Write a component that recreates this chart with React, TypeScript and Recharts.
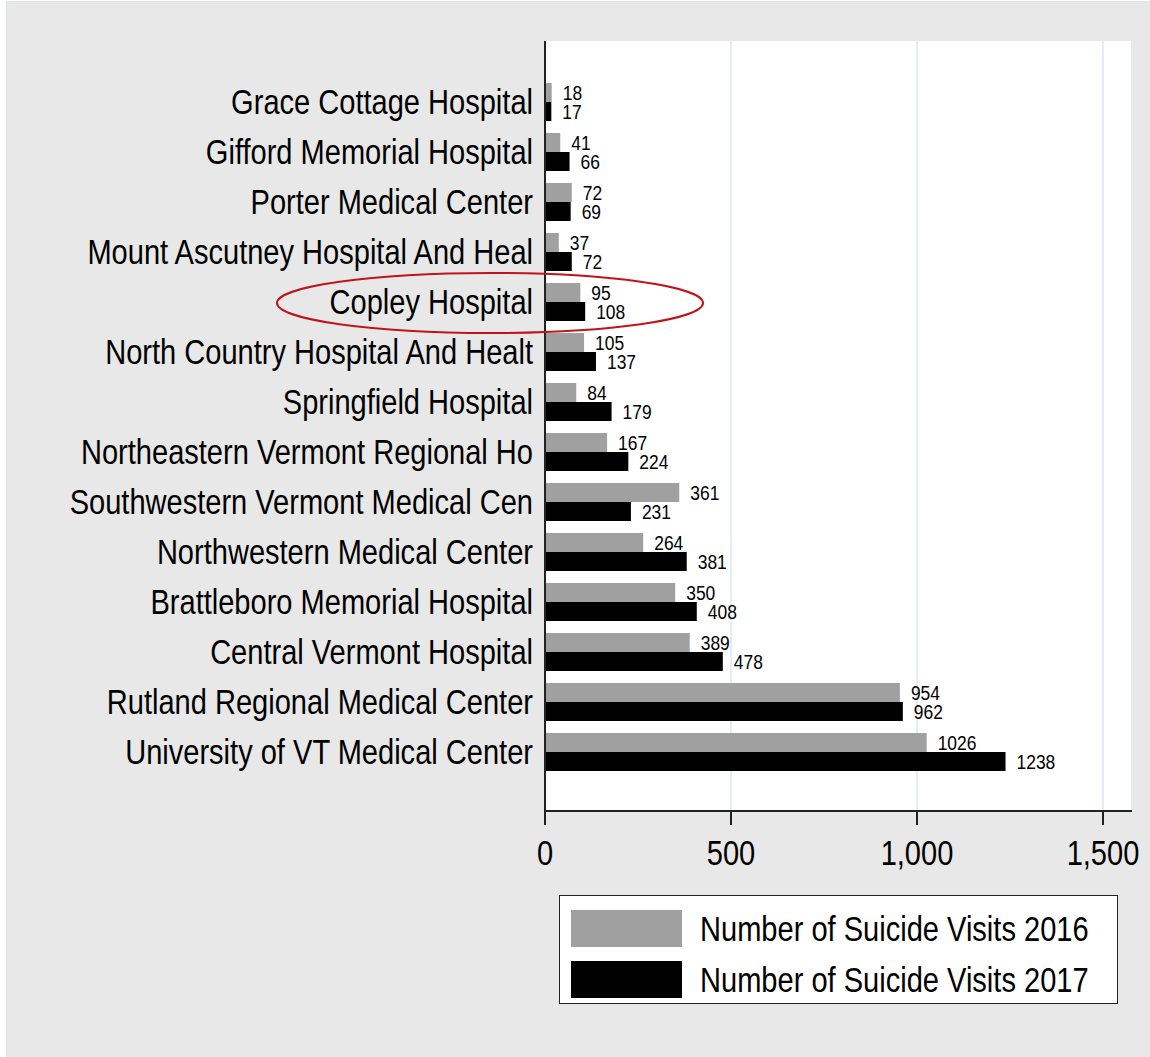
import React from 'react';
import {
  BarChart,
  Bar,
  XAxis,
  YAxis,
  CartesianGrid,
  LabelList,
} from 'recharts';

const hospitals = [
  'Grace Cottage Hospital',
  'Gifford Memorial Hospital',
  'Porter Medical Center',
  'Mount Ascutney Hospital And Heal',
  'Copley Hospital',
  'North Country Hospital And Healt',
  'Springfield Hospital',
  'Northeastern Vermont Regional Ho',
  'Southwestern Vermont Medical Cen',
  'Northwestern Medical Center',
  'Brattleboro Memorial Hospital',
  'Central Vermont Hospital',
  'Rutland Regional Medical Center',
  'University of VT Medical Center',
];
const visits2016 = [18, 41, 72, 37, 95, 105, 84, 167, 361, 264, 350, 389, 954, 1026];
const visits2017 = [17, 66, 69, 72, 108, 137, 179, 224, 231, 381, 408, 478, 962, 1238];
const xTicks = [0, 500, 1000, 1500];
const seriesNames = ['Number of Suicide Visits 2016', 'Number of Suicide Visits 2017'];
const highlighted = 'Copley Hospital';

const data = hospitals.map((name, i) => ({
  name,
  v2016: visits2016[i],
  v2017: visits2017[i],
}));

// no narrow font installed, so squeeze Liberation Sans sideways
const FONT = '"Liberation Sans", Arial, sans-serif';
const SQUEEZE = 0.83;
const GRAY = '#a0a0a0';
const BLACK = '#000000';

const NarrowText = ({ x, y, anchor, size, dy, children }: any) => (
  <text
    transform={`translate(${x},${y}) scale(${SQUEEZE},1)`}
    x={0}
    y={0}
    dy={dy}
    textAnchor={anchor}
    fontFamily={FONT}
    fontSize={size}
    fill="#000"
  >
    {children}
  </text>
);

const HospitalTick = (props: any) => {
  const { x, y, payload } = props;
  return (
    <g>
      <NarrowText x={x} y={y} anchor="end" size={35} dy="0.355em">
        {payload.value}
      </NarrowText>
      {payload.value === highlighted && (
        <ellipse
          cx={x - 43}
          cy={y + 1}
          rx={213}
          ry={30}
          fill="none"
          stroke="#c0141c"
          strokeWidth={2}
        />
      )}
    </g>
  );
};

const CountTick = (props: any) => {
  const { x, y, payload } = props;
  return (
    <NarrowText x={x} y={y} anchor="middle" size={35} dy="0.71em">
      {Number(payload.value).toLocaleString('en-US')}
    </NarrowText>
  );
};

const ValueLabel = (props: any) => {
  const { x, y, width, height, value } = props;
  return (
    <NarrowText x={x + width + 11} y={y + height / 2} anchor="start" size={21} dy="0.355em">
      {value}
    </NarrowText>
  );
};

const LegendBox = () => (
  <div
    style={{
      position: 'absolute',
      left: 559,
      top: 895,
      width: 559,
      height: 109,
      border: '1px solid #222',
      background: '#fff',
      boxSizing: 'border-box',
    }}
  >
    {seriesNames.map((name, i) => (
      <div key={name}>
        <div
          style={{
            position: 'absolute',
            left: 11,
            top: 14 + i * 51,
            width: 111,
            height: 37,
            background: i === 0 ? GRAY : BLACK,
          }}
        />
        <div
          style={{
            position: 'absolute',
            left: 140,
            top: 14 + i * 51,
            height: 37,
            lineHeight: '37px',
            fontFamily: FONT,
            fontSize: 35,
            color: '#000',
            whiteSpace: 'nowrap',
            transform: `scaleX(${SQUEEZE})`,
            transformOrigin: 'left center',
          }}
        >
          {name}
        </div>
      </div>
    ))}
  </div>
);

export default function App() {
  return (
    <div
      style={{
        position: 'absolute',
        left: 0,
        top: 0,
        width: 1150,
        height: 1057,
        background: '#fff',
        overflow: 'hidden',
      }}
    >
      <div
        style={{
          position: 'absolute',
          left: 6,
          top: 1,
          width: 1144,
          height: 1056,
          background: '#e8e8e8',
          borderLeft: '1px solid #dbe4e4',
          borderTop: '1px solid #dbe4e4',
          boxSizing: 'border-box',
        }}
      />
      <div style={{ position: 'absolute', left: 0, top: 0 }}>
        <BarChart
          width={1150}
          height={1057}
          data={data}
          layout="vertical"
          margin={{ top: 41, right: 18, left: 0, bottom: 186 }}
          barCategoryGap={6}
          barGap={0}
        >
          <CartesianGrid
            horizontal={false}
            vertical={true}
            stroke="#e4edef"
            strokeWidth={2}
            fill="#ffffff"
          />
          <XAxis
            type="number"
            domain={[0, 1578]}
            ticks={xTicks}
            allowDataOverflow
            height={60}
            tickSize={14}
            tickMargin={15}
            stroke="#222"
            strokeWidth={2}
            tick={<CountTick />}
          />
          <YAxis
            type="category"
            dataKey="name"
            width={545}
            interval={0}
            tickLine={false}
            tickSize={0}
            tickMargin={12}
            padding={{ top: 36, bottom: 34 }}
            stroke="#222"
            strokeWidth={2}
            tick={<HospitalTick />}
          />
          <Bar dataKey="v2016" name={seriesNames[0]} fill={GRAY} isAnimationActive={false}>
            <LabelList dataKey="v2016" content={<ValueLabel />} />
          </Bar>
          <Bar dataKey="v2017" name={seriesNames[1]} fill={BLACK} isAnimationActive={false}>
            <LabelList dataKey="v2017" content={<ValueLabel />} />
          </Bar>
        </BarChart>
      </div>
      <LegendBox />
    </div>
  );
}
